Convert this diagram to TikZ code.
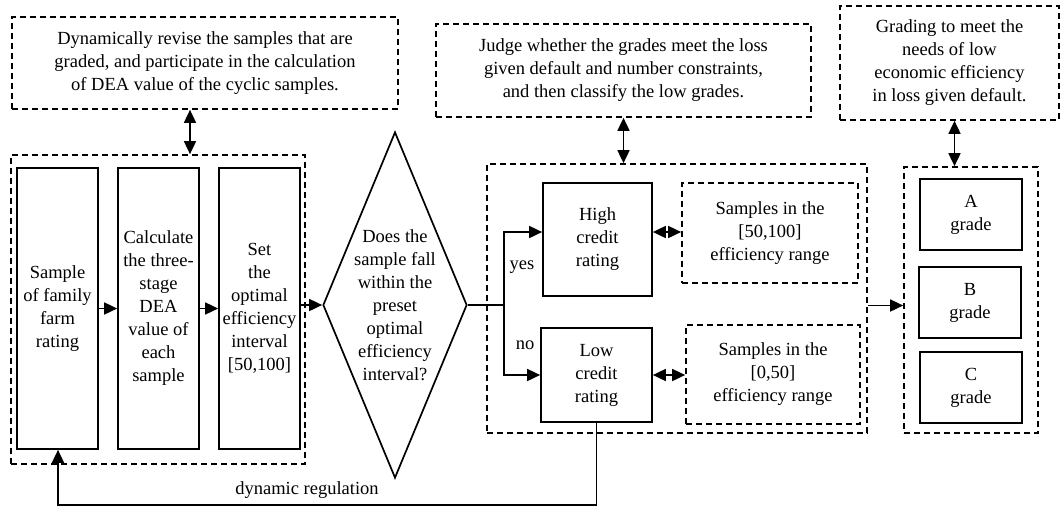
\documentclass[tikz,border=0pt]{standalone}
\usepackage{fontspec}
\setmainfont{Liberation Serif}
\usetikzlibrary{arrows.meta,shapes.geometric}

\tikzset{
    txt/.style={font=\fontsize{18.5}{23}\selectfont, align=center, inner sep=0pt},
    solidbox/.style={txt, draw, line width=1.7pt},
    dashbox/.style={txt, draw, line width=1.7pt, dash pattern=on 6pt off 4pt},
    arr/.style={line width=1.7pt, -{Triangle[length=13pt,width=12pt]}},
    dbl/.style={line width=1.7pt, {Triangle[length=13pt,width=12pt]}-{Triangle[length=13pt,width=12pt]}}
}

\begin{document}
\begin{tikzpicture}[x=1pt, y=-1pt]

    % canvas
    \useasboundingbox (0,0) rectangle (1062,507);

    % Notes on top
    \node[dashbox, minimum width=386pt, minimum height=92pt] (revise) at (205,63)
        {Dynamically revise the samples that are\\graded, and participate in the calculation\\of DEA value of the cyclic samples.};
    \node[dashbox, minimum width=375pt, minimum height=93pt] (judge) at (623.5,70.5)
        {Judge whether the grades meet the loss\\given default and number constraints,\\and then classify the low grades.};
    \node[dashbox, minimum width=219pt, minimum height=114pt] (need) at (949.5,63)
        {Grading to meet the\\needs of low\\economic efficiency\\in loss given default.};

    % Left group
    \node[dashbox, minimum width=294pt, minimum height=309pt] (left) at (158,309.5) {};
    \node[solidbox, minimum width=81pt, minimum height=281pt] (sample) at (57.5,308.5)
        {Sample\\of family\\farm\\rating};
    \node[solidbox, minimum width=81pt, minimum height=281pt] (calc) at (158.5,308.5)
        {Calculate\\the three-\\stage\\DEA\\value of\\each\\sample};
    \node[solidbox, minimum width=81pt, minimum height=281pt] (setint) at (259.5,308.5)
        {Set\\the\\optimal\\efficiency\\interval\\{[50,100]}};

    % Decision
    \node[diamond, draw, line width=1.7pt, inner sep=0pt, minimum width=144pt, minimum height=346pt] (ask) at (395,305) {};
    \node[txt] (asktext) at (ask.center)
        {Does the\\sample fall\\within the\\preset\\optimal\\efficiency\\interval?};

    % Middle group
    \node[dashbox, minimum width=380pt, minimum height=269pt] (mid) at (677,298.5) {};
    \node[solidbox, minimum width=109pt, minimum height=113pt] (high) at (597.5,239.5)
        {High\\credit\\rating};
    \node[solidbox, minimum width=111pt, minimum height=94pt] (low) at (596.5,375)
        {Low\\credit\\rating};
    \node[dashbox, minimum width=176pt, minimum height=100pt] (range1) at (770,233)
        {Samples in the\\{[50,100]}\\efficiency range};
    \node[dashbox, minimum width=174pt, minimum height=99pt] (range2) at (773,374.5)
        {Samples in the\\{[0,50]}\\efficiency range};

    % Grade group
    \node[dashbox, minimum width=134pt, minimum height=266pt] (grades) at (971,300) {};
    \node[solidbox, minimum width=102pt, minimum height=71pt] (ga) at (971,214.5) {A\\grade};
    \node[solidbox, minimum width=102pt, minimum height=71pt] (gb) at (970,302.5) {B\\grade};
    \node[solidbox, minimum width=102pt, minimum height=71pt] (gc) at (971,387.5) {C\\grade};

    % Links to notes
    \draw[dbl] ([xshift=-15pt]revise.south) -- ([xshift=-15pt]revise.south |- left.north);
    \draw[dbl] (judge.south) -- (judge.south |- mid.north);
    \draw[dbl] ([xshift=5pt]need.south) -- ([xshift=5pt]need.south |- grades.north);

    % Flow
    \draw[arr] (sample.east) -- (calc.west);
    \draw[arr] (calc.east) -- (setint.west);
    \draw[arr] (setint.east |- ask.west) -- (ask.west);
    \coordinate (split) at (504,305);
    \draw[line width=1.7pt] (ask.east) -- (split);
    \draw[arr] (split) |- ([yshift=7.5pt]high.west);
    \draw[arr] (split) |- (low.west);
    \node[txt] (yes) at (522,267) {yes};
    \node[txt] (no) at (525,345) {no};
    \draw[dbl] ([yshift=7.5pt]high.east) -- ([yshift=7.5pt]high.east -| range1.west);
    \draw[dbl] (low.east) -- (low.east -| range2.west);
    \draw[arr] ([yshift=-7pt]mid.east) -- ([yshift=-7pt]mid.east -| grades.west);

    % Feedback
    \coordinate (back) at (58,505);
    \draw[arr] (low.south) |- (back) -- (back |- sample.south);
    \node[txt] (regul) at (307,490) {dynamic regulation};

\end{tikzpicture}
\end{document}
